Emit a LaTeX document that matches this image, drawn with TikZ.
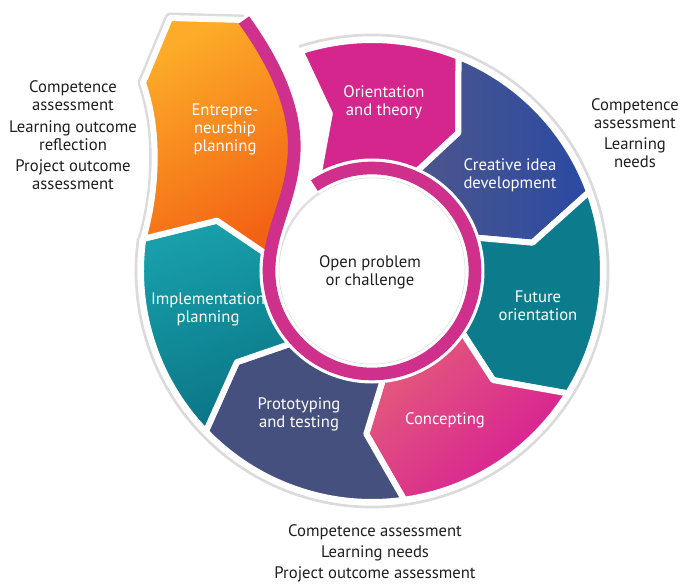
\documentclass[tikz,border=0pt]{standalone}
\usepackage{fontspec}
\setsansfont{PT Sans}
\usepackage{tikz}
\definecolor{oriC}{RGB}{212,38,140}
\definecolor{creA}{RGB}{78,86,138}
\definecolor{creB}{RGB}{42,74,164}
\definecolor{futC}{RGB}{12,124,140}
\definecolor{conA}{RGB}{228,92,122}
\definecolor{conB}{RGB}{214,28,150}
\definecolor{proC}{RGB}{70,80,126}
\definecolor{impA}{RGB}{24,160,170}
\definecolor{impB}{RGB}{10,116,134}
\definecolor{entA}{RGB}{252,172,40}
\definecolor{entB}{RGB}{243,98,20}
\definecolor{ringC}{RGB}{206,48,140}
% one arrow shaped piece of the wheel, from angle #1 to angle #2
\newcommand{\ringpart}[3]{\path[seg,#3] (#1:231) arc[start angle=#1, end angle=#2, radius=231]
  -- (#2-10:163) -- (#2:100) arc[start angle=#2, end angle=#1, radius=100] -- (#1-10:163) -- cycle;}

\begin{document}
\begin{tikzpicture}[x=0.6pt,y=0.6pt]
\tikzstyle{seg}=[draw=white, line width=3.6pt, line join=round]
\tikzstyle{txt}=[text=white, font=\sffamily\fontsize{10}{10.8}\selectfont, align=center]
\tikzstyle{note}=[text=black!88, font=\sffamily\fontsize{10}{10.6}\selectfont, align=center]
  \useasboundingbox (-372,-316) rectangle (314,271);
  % soft edge round the wheel
  \draw[black!14, line width=1.6pt] (108:236) arc[start angle=108, end angle=-188, radius=236];
  \draw[black!14, line width=6.5pt, line join=round] (-188:231) .. controls (-215,80) and (-212,140) .. (-229,188) -- (-202,253) -- (-128,251);
  % the six pieces of the wheel
  \path[seg, fill=oriC] (108:231) arc[start angle=108, end angle=68, radius=231] -- (58:163) -- (68:100)
    arc[start angle=68, end angle=124, radius=100] -- (105:163) -- cycle;
  \ringpart{68}{20}{left color=creA, right color=creB}
  \ringpart{20}{-32}{fill=futC}
  \ringpart{-32}{-82}{top color=conA, bottom color=conB, shading angle=45}
  \ringpart{-82}{-136}{fill=proC}
  \ringpart{-136}{-188}{top color=impA, bottom color=impB, shading angle=20}
  % inner circle
  \draw[black!12, line width=1.5pt] (0,0) circle (94);
  % ribbon round the centre, white edge first
  \draw[white, line width=11.4pt] (-128,251) .. controls (-95,205) and (-75,160) .. (-78,116)
    .. controls (-81,70) and (-103,40) .. (-103,0) arc[start angle=180, end angle=484, radius=103];
  % piece that leaves the wheel
  \path[seg, top color=entA, bottom color=entB, shading angle=30] (-188:231) .. controls (-215,80) and (-212,140) .. (-229,188)
    -- (-202,253) -- (-128,251) .. controls (-95,205) and (-75,160) .. (-78,116)
    .. controls (-81,70) and (-100,40) .. (-188:103) -- (-198:163) -- cycle;
  \draw[ringC, line width=7.6pt] (-128,251) .. controls (-95,205) and (-75,160) .. (-78,116)
    .. controls (-81,70) and (-103,40) .. (-103,0) arc[start angle=180, end angle=484, radius=103];
  % labels
  \node[txt] (ent) at (-147,142) {Entrepre-\\neurship\\planning};
  \node[txt] (ori) at (12,169) {Orientation\\and theory};
  \node[txt] (cre) at (138,96) {Creative idea\\development};
  \node[txt] (fut) at (166,-35) {Future\\orientation};
  \node[txt] (con) at (73,-149) {Concepting};
  \node[txt] (pro) at (-73,-143) {Prototyping\\and testing};
  \node[txt] (imp) at (-164,-38) {Implementation\\planning};
  \node[note] (open) at (-2,-1) {Open problem\\or challenge};
  \node[note] (lnote) at (-299,136) {Competence\\assessment\\[3pt]Learning outcome\\reflection\\[2pt]Project outcome\\assessment};
  \node[note] (rnote) at (263,138) {Competence\\assessment\\[2pt]Learning\\needs};
  \node[note, font=\sffamily\fontsize{10}{12.6}\selectfont] (bnote) at (3,-282) {Competence assessment\\Learning needs\\Project outcome assessment};
\end{tikzpicture}
\end{document}
